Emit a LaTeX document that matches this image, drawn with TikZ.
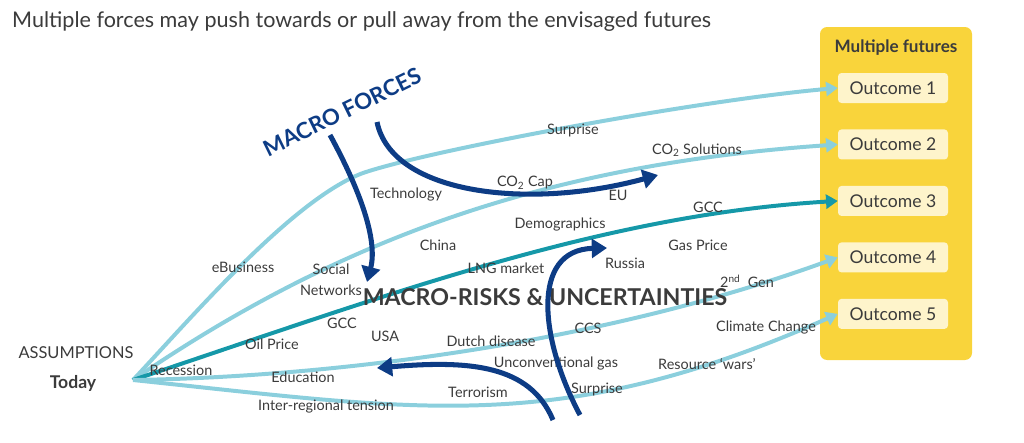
\documentclass[tikz,border=0pt]{standalone}
\usepackage{fontspec}
\setmainfont{Lato}
\usetikzlibrary{positioning, fit, arrows.meta, backgrounds}

\definecolor{lineBlue}{HTML}{8BCFDD}
\definecolor{lineTeal}{HTML}{1598A8}
\definecolor{navyForce}{HTML}{0D3C85}
\definecolor{futYellow}{HTML}{F9D43B}
\definecolor{outCream}{HTML}{FEF4CB}
\definecolor{txtGray}{HTML}{3B3B3B}

\begin{document}
\begin{tikzpicture}[
                x=0.03cm, y=-0.03cm,
                node distance = 0.78cm,
                % Box Styles
                futureBox/.style = {rectangle, fill=futYellow, rounded corners=6, inner sep=0pt},
                outBox/.style = {rectangle, fill=outCream, rounded corners=3, minimum width=3.3cm, minimum height=0.9cm, font=\fontsize{15}{17}\selectfont, text=txtGray},
                lbl/.style = {font=\fontsize{12.3}{15}\selectfont, text=txtGray, inner sep=0pt, align=center},
                % Arrow Styles
                futLine/.style = {-{Triangle[length=10pt, width=12pt]}, line width=3.4pt, draw=lineBlue},
                forceLine/.style = {-{Triangle[length=13pt, width=16pt]}, line width=4.3pt, draw=navyForce}
            ]
                \useasboundingbox (0,0) rectangle (1024,442);

                % ==========================================
                % TITLE
                % ==========================================
                \node[anchor=west, inner sep=0pt, text=txtGray, font=\fontsize{18.4}{22}\selectfont] (title) at (12,22)
                    {Multiple forces may push towards or pull away from the envisaged futures};

                % ==========================================
                % MULTIPLE FUTURES (RIGHT PANEL)
                % ==========================================
                \node[outBox] (out1) at (893,88) {Outcome 1};
                \node[outBox, below=of out1] (out2) {Outcome 2};
                \node[outBox, below=of out2] (out3) {Outcome 3};
                \node[outBox, below=of out3] (out4) {Outcome 4};
                \node[outBox, below=of out4] (out5) {Outcome 5};
                \node[text=txtGray, font=\fontsize{14.6}{17}\selectfont\bfseries] (futTitle) at (896,48) {Multiple futures};

                \path (820,27) coordinate (futTL) (972,360) coordinate (futBR);
                \begin{pgfonlayer}{background}
                    \node[futureBox, fit=(futTL) (futBR)] (futures) {};
                \end{pgfonlayer}

                % ==========================================
                % ASSUMPTIONS (LEFT)
                % ==========================================
                \node[lbl, font=\fontsize{14}{16}\selectfont] (assump) at (76,353) {ASSUMPTIONS};
                \node[lbl, font=\fontsize{15}{17}\selectfont\bfseries] (todayLbl) at (73,383) {Today};
                \coordinate (today) at (133,380);

                % ==========================================
                % PATHS TOWARDS THE FUTURES
                % ==========================================
                \coordinate (bend1) at (363,173);
                \draw[futLine] (today) .. controls (192,317) and (293,199) .. (bend1)
                    .. controls (430,150) and (700,100) .. (out1.west);
                \draw[futLine] (today) .. controls (332,244) and (538,165) .. (out2.west);
                \draw[futLine, draw=lineTeal] (today) .. controls (382,297) and (600,215) .. (out3.west);
                \draw[futLine] (today) .. controls (330,377) and (600,344) .. (out4.west);
                \draw[futLine] (today) .. controls (420,410) and (560,437) .. (out5.west);

                % ==========================================
                % FORCES, RISKS & UNCERTAINTIES
                % ==========================================
                \node[lbl] (surp1) at (573,130) {Surprise};
                \node[lbl] (co2Sol) at (697,150) {CO\textsubscript{2} Solutions};
                \node[lbl] (tech) at (406,195) {Technology};
                \node[lbl] (co2Cap) at (525,183) {CO\textsubscript{2} Cap};
                \node[lbl] (eu) at (618,195) {EU};
                \node[lbl] (gcc1) at (708,207) {GCC};
                \node[lbl] (demo) at (560,225) {Demographics};
                \node[lbl] (china) at (438,245) {China};
                \node[lbl] (gasPrice) at (698,245) {Gas Price};
                \node[lbl] (eBus) at (243,267) {eBusiness};
                \node[lbl, font=\fontsize{12.3}{18}\selectfont] (social) at (331,280) {Social\\Networks};
                \node[lbl] (lng) at (506,268) {LNG market};
                \node[lbl] (russia) at (625,263) {Russia};
                \node[lbl] (gen) at (747,281) {2\textsuperscript{nd}\ \ Gen};
                \node[lbl] (gcc2) at (342,323) {GCC};
                \node[lbl] (usa) at (385,336) {USA};
                \node[lbl] (ccs) at (588,328) {CCS};
                \node[lbl] (climate) at (766,328) {Climate Change};
                \node[lbl] (dutch) at (491,341) {Dutch disease};
                \node[lbl] (oil) at (272,344) {Oil Price};
                \node[lbl] (recess) at (181,370) {Recession};
                \node[lbl] (unconv) at (556,364) {Unconventional gas};
                \node[lbl] (resource) at (707,364) {Resource ‘wars’};
                \node[lbl] (edu) at (303,377) {Education};
                \node[lbl] (terror) at (478,392) {Terrorism};
                \node[lbl] (surp2) at (597,389) {Surprise};
                \node[lbl] (inter) at (326,407) {Inter-regional tension};

                \node[lbl, font=\fontsize{19.8}{23}\selectfont\bfseries] (risks) at (545,297) {MACRO-RISKS \& UNCERTAINTIES};
                \node[lbl, text=navyForce, font=\fontsize{19}{22}\selectfont\bfseries, rotate=26] (macro) at (342,112) {MACRO FORCES};

                % Free ends of the force arrows
                \coordinate (pushA) at (330,135);
                \coordinate (pushB) at (377,122);
                \coordinate (pushC) at (580,415);
                \coordinate (pullD) at (553,420);
                \coordinate (tipA) at (367,282);
                \coordinate (tipB) at (658,175);
                \coordinate (tipC) at (607,248);
                \coordinate (tipD) at (377,368);

                \draw[forceLine] (pushA) .. controls (360,190) and (378,240) .. (tipA);
                \draw[forceLine] (pushB) .. controls (392,195) and (530,210) .. (tipB);
                \draw[forceLine] (pushC) .. controls (540,340) and (530,250) .. (tipC);
                \draw[forceLine] (pullD) .. controls (530,365) and (470,360) .. (tipD);

            \end{tikzpicture}
\end{document}
